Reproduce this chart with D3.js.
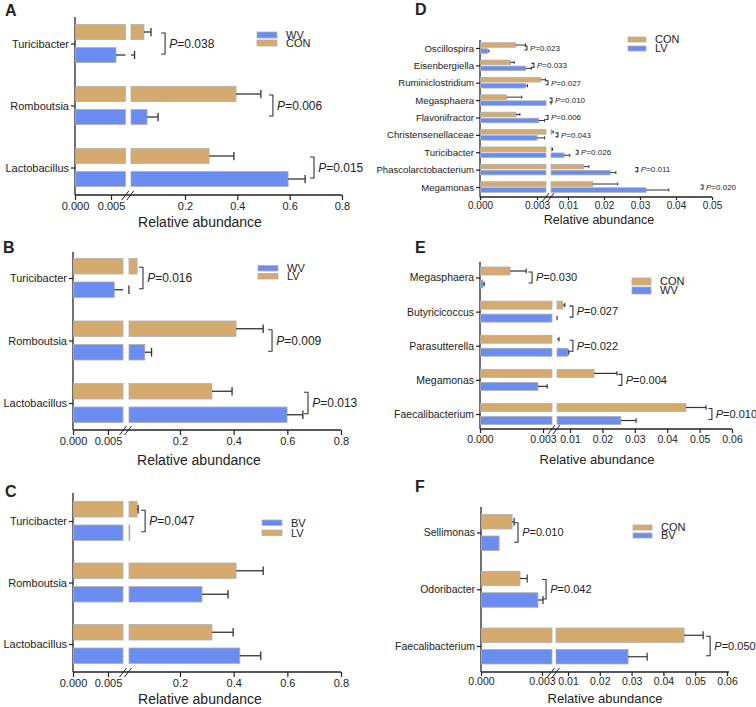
<!DOCTYPE html>
<meta charset="utf-8">
<style>
body { margin: 0; background: #fff; }
svg text { font-family: "Liberation Sans", Arial, sans-serif; fill: #222; }
</style>
<body>
<svg id="chart" width="756" height="707"></svg>
<script src="https://d3js.org/d3.v7.min.js"></script>
<script>
// ---- data (relative abundance, bar value and mean+SD end) ----
// A: CON vs WV
const catsA = ["Turicibacter", "Romboutsia", "Lactobacillus"];
const conA = [0.043, 0.395, 0.292];
const conErrA = [0.070, 0.49, 0.387];
const wvA = [0.0057, 0.055, 0.594];
const wvErrA = [0.0072, 0.097, 0.659];
const pA = ["0.038", "0.006", "0.015"];
const pAtA = [0.124, 0.536, 0.693];

// B: LV vs WV
const catsB = ["Turicibacter", "Romboutsia", "Lactobacillus"];
const lvB = [0.04, 0.409, 0.319];
const lvErrB = [0.04, 0.51, 0.394];
const wvB = [0.0059, 0.069, 0.599];
const wvErrB = [0.0099, 0.094, 0.658];
const pB = ["0.016", "0.009", "0.013"];
const pAtB = [0.062, 0.543, 0.677];

// C: LV vs BV
const catsC = ["Turicibacter", "Romboutsia", "Lactobacillus"];
const lvC = [0.04, 0.409, 0.319];
const lvErrC = [0.044, 0.51, 0.398];
const bvC = [0.013, 0.282, 0.423];
const bvErrC = [0.013, 0.379, 0.501];
const pC = ["0.047", null, null];
const pAtC = [0.07, null, null];

// D: CON vs LV
const catsD = ["Oscillospira", "Eisenbergiella", "Ruminiclostridium", "Megasphaera", "Flavonifractor",
  "Christensenellaceae", "Turicibacter", "Phascolarctobacterium", "Megamonas"];
const conD = [0.00186, 0.0016, 0.0032, 0.0014, 0.0019, 0.0055, 0.0054, 0.0144, 0.0169];
const conErrD = [0.0024, 0.0018, 0.00345, 0.0022, 0.0021, 0.0059, 0.0057, 0.0158, 0.0238];
const lvD = [0.0004, 0.0024, 0.0024, 0.0045, 0.0031, 0.003, 0.0089, 0.0217, 0.0317];
const lvErrD = [0.00047, 0.0027, 0.0025, 0.0053, 0.0034, 0.0034, 0.0105, 0.0233, 0.038];
const pD = ["0.023", "0.033", "0.027", "0.010", "0.006", "0.043", "0.026", "0.011", "0.020"];
const pAtD = [0.00247, 0.00284, 0.0042, 0.00556, 0.0042, 0.0072, 0.0128, 0.0294, 0.0475];

// E: CON vs WV
const catsE = ["Megasphaera", "Butyricicoccus", "Parasutterella", "Megamonas", "Faecalibacterium"];
const conE = [0.00143, 0.0078, 0.0055, 0.0174, 0.0458];
const conErrE = [0.0022, 0.0084, 0.0066, 0.0245, 0.052];
const wvE = [0.00014, 0.005, 0.0094, 0.00276, 0.0257];
const wvErrE = [0.0002, 0.006, 0.0096, 0.0032, 0.0304];
const pE = ["0.030", "0.027", "0.022", "0.004", "0.010"];
const pAtE = [0.00248, 0.0109, 0.0109, 0.026, 0.0538];

// F: CON vs BV
const catsF = ["Sellimonas", "Odoribacter", "Faecalibacterium"];
const conF = [0.00153, 0.00192, 0.0465];
const conErrF = [0.00163, 0.00227, 0.0525];
const bvF = [0.00089, 0.0028, 0.0289];
const bvErrF = [0.00089, 0.00305, 0.0349];
const pF = ["0.010", "0.042", "0.050"];
const pAtF = [0.00182, 0.0032, 0.0547];

const ticksLoABC = [0, 0.005], ticksHiABC = [0.2, 0.4, 0.6, 0.8];
const ticksLoDEF = [0, 0.003];
const ticksHiD = [0.01, 0.02, 0.03, 0.04, 0.05];
const ticksHiEF = [0.01, 0.02, 0.03, 0.04, 0.05, 0.06];

const tan = "#d5aa6e", blue = "#6b8cf0";
const ink = "#222", edge = "#b0b0b0";

const svg = d3.select("#chart");

function drawPanel(p) {
  const g = svg.append("g");
  const lo = d3.scaleLinear().domain([p.loTicks[0], p.loTicks[1]]).range(p.loRng);
  const hi = d3.scaleLinear().domain([p.hiTicks[0], p.hiTicks[p.hiTicks.length - 1]]).range(p.hiRng);
  const loMax = lo.invert(p.xb1), hiMin = hi.invert(p.xb2);
  // broken axis: low segment, gap, high segment
  const x = v => v <= loMax ? lo(v)
    : (v >= hiMin ? hi(v) : p.xb1 + (p.xb2 - p.xb1) * (v - loMax) / (hiMin - loMax));
  const y = d3.scalePoint().domain(p.cats).range([p.c0, p.c1]);

  // axis lines
  g.append("line").attr("x1", p.x0).attr("x2", p.x0).attr("y1", p.yTop).attr("y2", p.yAxis)
    .attr("stroke", ink).attr("stroke-width", 1.3);
  g.append("line").attr("x1", p.x0).attr("x2", p.x1).attr("y1", p.yAxis).attr("y2", p.yAxis)
    .attr("stroke", ink).attr("stroke-width", 1.3);

  function styleAxis(a, fs) {
    a.select(".domain").remove();
    a.attr("font-family", null).attr("font-size", fs);
    a.selectAll("line").attr("stroke", ink).attr("stroke-width", 1.2);
    a.selectAll("text").attr("fill", ink);
  }
  g.append("g").attr("transform", "translate(0," + p.yAxis + ")")
    .call(d3.axisBottom(lo).tickValues(p.loTicks).tickFormat(d3.format(".3f")).tickSize(p.ts).tickPadding(p.tp))
    .call(a => styleAxis(a, p.tf));
  g.append("g").attr("transform", "translate(0," + p.yAxis + ")")
    .call(d3.axisBottom(hi).tickValues(p.hiTicks).tickFormat(d3.format("")).tickSize(p.ts).tickPadding(p.tp))
    .call(a => styleAxis(a, p.tf));
  g.append("g").attr("transform", "translate(" + p.x0 + ",0)")
    .call(d3.axisLeft(y).tickSize(4).tickPadding(2))
    .call(a => styleAxis(a, p.cf));

  // break marks
  const bc = (p.xb1 + p.xb2) / 2;
  [-5.5, -0.5].forEach(o => {
    g.append("line").attr("x1", bc + o - 1).attr("y1", p.yAxis + 5)
      .attr("x2", bc + o + 6).attr("y2", p.yAxis - 4)
      .attr("stroke", ink).attr("stroke-width", 1);
  });

  const series = [
    {vals: p.top, errs: p.topErr, color: tan, top: true},
    {vals: p.bot, errs: p.botErr, color: blue, top: false}
  ];
  const capH = Math.max(3, p.barH * 0.55);
  series.forEach(s => {
    const by = c => s.top ? y(c) - p.gap / 2 - p.barH : y(c) + p.gap / 2;
    const cy = c => by(c) + p.barH / 2;
    g.append("g").selectAll("rect").data(p.cats).join("rect")
      .attr("x", p.x0 + 0.5)
      .attr("y", by)
      .attr("width", (c, i) => Math.max(0, Math.min(x(s.vals[i]), p.xb1) - p.x0 - 0.5))
      .attr("height", p.barH)
      .attr("fill", s.color).attr("stroke", edge).attr("stroke-width", 0.8);
    const hiCats = p.cats.filter((c, i) => x(s.vals[i]) > p.xb2 + 0.3);
    g.append("g").selectAll("rect").data(hiCats).join("rect")
      .attr("x", p.xb2)
      .attr("y", by)
      .attr("width", c => x(s.vals[p.cats.indexOf(c)]) - p.xb2)
      .attr("height", p.barH)
      .attr("fill", s.color).attr("stroke", edge).attr("stroke-width", 0.8);

    // error bars
    const eg = g.append("g").attr("stroke", "#333").attr("stroke-width", p.ew);
    p.cats.forEach((c, i) => {
      const v = s.vals[i], e = s.errs[i];
      if (e <= v) return;
      const xv = x(v), xe = x(e);
      const segs = [];
      if (xv < p.xb1) segs.push([xv, Math.min(xe, p.xb1)]);
      if (xe > p.xb2) segs.push([Math.max(xv, p.xb2), xe]);
      segs.forEach(sg => eg.append("line").attr("x1", sg[0]).attr("x2", sg[1])
        .attr("y1", cy(c)).attr("y2", cy(c)));
      eg.append("line").attr("x1", xe).attr("x2", xe)
        .attr("y1", cy(c) - capH / 2).attr("y2", cy(c) + capH / 2);
    });
  });

  // significance brackets
  p.cats.forEach((c, i) => {
    if (!p.p[i]) return;
    const bx = x(p.pAt[i]);
    const y1 = y(c) - p.gap / 2 - p.barH / 2 + 1, y2 = y(c) + p.gap / 2 + p.barH / 2 - 1;
    g.append("path")
      .attr("d", "M" + (bx - p.hook) + "," + y1 + "H" + bx + "V" + y2 + "H" + (bx - p.hook))
      .attr("fill", "none").attr("stroke", "#333").attr("stroke-width", 1.1);
    const t = g.append("text").attr("x", bx + p.hook * 0.8 + 1).attr("y", y(c)).attr("dy", "0.35em")
      .attr("font-size", p.pf);
    t.append("tspan").attr("font-style", "italic").text("P");
    t.append("tspan").text("=" + p.p[i]);
  });

  // legend (rows sit tight together, as in the figure)
  p.legend.forEach((d, k) => {
    const ly = p.lgY + k * p.lgStep;
    g.append("rect").attr("x", p.lgX).attr("y", ly).attr("width", p.lgW).attr("height", p.lgH)
      .attr("fill", d[1]).attr("stroke", edge).attr("stroke-width", 0.8);
    g.append("text").attr("x", p.lgX + p.lgW + 9).attr("y", ly + p.lgH / 2).attr("dy", "0.35em")
      .attr("font-size", p.lf).text(d[0]);
  });

  // axis title and panel letter
  g.append("text").attr("x", p.titleX).attr("y", p.titleY).attr("dy", "0.35em")
    .attr("text-anchor", "middle").attr("font-size", p.titleF).text("Relative abundance");
  g.append("text").attr("x", p.letter[1]).attr("y", p.letter[2])
    .attr("font-size", 16).attr("font-weight", "bold").attr("fill", "#000").text(p.letter[0]);
}

const big = {loTicks: ticksLoABC, hiTicks: ticksHiABC, barH: 15.5, gap: 8, tf: 11, cf: 11, pf: 12,
  lf: 11, titleF: 14, ts: 5, tp: 2, hook: 4, ew: 1.3, lgW: 20};

drawPanel(Object.assign({}, big, {
  cats: catsA, top: conA, topErr: conErrA, bot: wvA, botErr: wvErrA, p: pA, pAt: pAtA,
  legend: [["WV", blue], ["CON", tan]], letter: ["A", 5, 16],
  x0: 75, xb1: 125.5, xb2: 131, x1: 342, loRng: [75, 111], hiRng: [185, 342],
  yTop: 17, yAxis: 195, c0: 43.5, c1: 167.5, barH: 15,
  lgX: 257, lgY: 32, lgH: 6, lgStep: 8, titleX: 200, titleY: 222
}));
drawPanel(Object.assign({}, big, {
  cats: catsB, top: lvB, topErr: lvErrB, bot: wvB, botErr: wvErrB, p: pB, pAt: pAtB,
  legend: [["WV", blue], ["LV", tan]], letter: ["B", 3, 253],
  x0: 73, xb1: 123, xb2: 129, x1: 341, loRng: [73, 108], hiRng: [180, 341],
  yTop: 252, yAxis: 430, c0: 278, c1: 403,
  lgX: 258, lgY: 265.5, lgH: 5.5, lgStep: 8, titleX: 199, titleY: 460
}));
drawPanel(Object.assign({}, big, {
  cats: catsC, top: lvC, topErr: lvErrC, bot: bvC, botErr: bvErrC, p: pC, pAt: pAtC,
  legend: [["BV", blue], ["LV", tan]], letter: ["C", 5, 497],
  x0: 73, xb1: 123, xb2: 129, x1: 341, loRng: [73, 108], hiRng: [180, 341],
  yTop: 493, yAxis: 672, c0: 521, c1: 644,
  lgX: 262, lgY: 520, lgH: 5.5, lgStep: 10, titleX: 200, titleY: 699
}));
drawPanel({
  cats: catsD, top: conD, topErr: conErrD, bot: lvD, botErr: lvErrD, p: pD, pAt: pAtD,
  legend: [["CON", tan], ["LV", blue]], letter: ["D", 415, 15],
  loTicks: ticksLoDEF, hiTicks: ticksHiD,
  x0: 480, xb1: 546, xb2: 551, x1: 712, loRng: [480, 537], hiRng: [568, 712],
  yTop: 40, yAxis: 197, c0: 48, c1: 187, barH: 4.6, gap: 1.4,
  tf: 10, cf: 9.6, pf: 8, lf: 11, titleF: 12.5, ts: 3, tp: 2, hook: 2.5, ew: 1,
  lgX: 628, lgY: 37, lgW: 18, lgH: 5, lgStep: 9, titleX: 599, titleY: 220
});
drawPanel({
  cats: catsE, top: conE, topErr: conErrE, bot: wvE, botErr: wvErrE, p: pE, pAt: pAtE,
  legend: [["CON", tan], ["WV", blue]], letter: ["E", 415, 253],
  loTicks: ticksLoDEF, hiTicks: ticksHiEF,
  x0: 480, xb1: 552, xb2: 557, x1: 732, loRng: [480, 543], hiRng: [570, 732],
  yTop: 262, yAxis: 429, c0: 277.5, c1: 414, barH: 8, gap: 5,
  tf: 10.5, cf: 10.5, pf: 11, lf: 11, titleF: 13, ts: 4, tp: 3, hook: 3.5, ew: 1.2,
  lgX: 632, lgY: 278, lgW: 19, lgH: 7, lgStep: 9, titleX: 597, titleY: 459
});
drawPanel({
  cats: catsF, top: conF, topErr: conErrF, bot: bvF, botErr: bvErrF, p: pF, pAt: pAtF,
  legend: [["CON", tan], ["BV", blue]], letter: ["F", 415, 492],
  loTicks: ticksLoDEF, hiTicks: ticksHiEF,
  x0: 481, xb1: 552, xb2: 556, x1: 729, loRng: [481, 542], hiRng: [568, 727],
  yTop: 507, yAxis: 672, c0: 532.5, c1: 646, barH: 14.5, gap: 7,
  tf: 10.5, cf: 10.5, pf: 11, lf: 11, titleF: 13, ts: 4, tp: 2, hook: 4, ew: 1.2,
  lgX: 633, lgY: 525, lgW: 19, lgH: 5, lgStep: 8, titleX: 605, titleY: 698
});
</script>
</body>
